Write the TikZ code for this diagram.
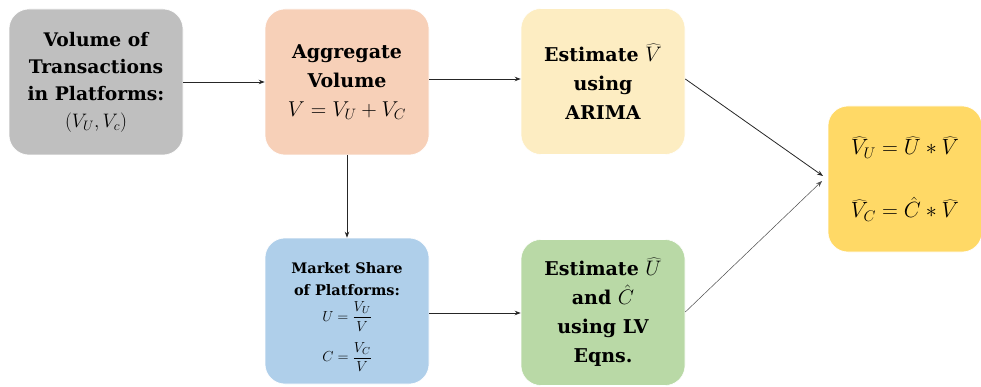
\RequirePackage{fix-cm}
\documentclass[tikz,border=0pt]{standalone}
\usepackage{fontspec}
\setmainfont{DejaVu Serif}
\usetikzlibrary{arrows.meta}
\definecolor{boxgray}{HTML}{BFBFBF}
\definecolor{boxpeach}{HTML}{F7D0B8}
\definecolor{boxcream}{HTML}{FDEDC2}
\definecolor{boxgold}{HTML}{FFD966}
\definecolor{boxblue}{HTML}{AFCFEA}
\definecolor{boxgreen}{HTML}{B9D9A6}
\newcommand{\mathsz}[1]{\normalfont\fontsize{#1}{29}\selectfont}
\tikzset{
  stage/.style={rounded corners=20pt, draw=white, line width=0.6pt,
    minimum width=164pt, minimum height=146pt, align=center,
    inner sep=2pt, font=\bfseries\fontsize{19}{29}\selectfont},
  flow/.style={-{Stealth[length=6pt,width=4.5pt]}, line width=0.8pt, draw=black!85},
  thinflow/.style={-{Stealth[length=6pt,width=4.5pt]}, line width=0.5pt, draw=black!70}
}
\begin{document}
\begin{tikzpicture}[x=1pt,y=-1pt]
\useasboundingbox (0,0) rectangle (981,387);
\node[stage, fill=boxgray, minimum width=174pt, font=\bfseries\fontsize{18.7}{27}\selectfont]
  (vol) at (96,82) {Volume of\\Transactions\\in Platforms:\\\mathsz{19.5}$(V_U,V_c)$};
\node[stage, fill=boxpeach] (agg) at (347,82)
  {Aggregate\\Volume\\\mathsz{21.5}$V=V_U+V_C$};
\node[stage, fill=boxcream] (arima) at (603,81.5)
  {Estimate {\mathsz{21}$\widehat{V}$}\\using\\ARIMA};
\node[stage, fill=boxgold, minimum width=154pt, font=\fontsize{22}{29}\selectfont] (out) at (905,179)
  {$\widehat{V}_U=\widehat{U}*\widehat{V}$\\[34pt]$\widehat{V}_C=\hat{C}*\widehat{V}$};
\node[stage, fill=boxblue, font=\bfseries\fontsize{14.5}{22}\selectfont] (share) at (347,311)
  {\rule{0pt}{23pt}Market Share\\of Platforms:\\[4pt]\mathsz{14.5}$\displaystyle U=\frac{V_U}{V}$\\[10pt]\mathsz{14.5}$\displaystyle C=\frac{V_C}{V}$};
\node[stage, fill=boxgreen] (lv) at (603,312.5)
  {Estimate {\mathsz{21}$\widehat{U}$}\\and {\mathsz{21}$\hat{C}$}\\using LV\\Eqns.};
\coordinate (inA) at (823,176);
\coordinate (inB) at (822,181);
\draw[flow] (vol.east) -- (agg.west);
\draw[flow] (agg.east |- 0,79) -- (arima.west |- 0,79);
\draw[flow] (agg.south) -- (share.north);
\draw[flow] (share.east |- 0,313) -- (lv.west |- 0,313);
\draw[flow] (arima.east |- 0,79) -- (inA);
\draw[thinflow] (lv.east |- 0,312) -- (inB);
\end{tikzpicture}
\end{document}
